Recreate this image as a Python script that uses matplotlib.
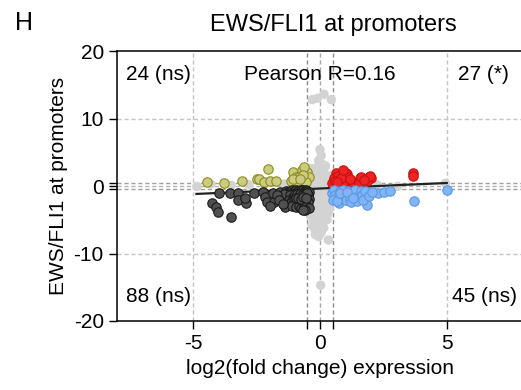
import matplotlib
matplotlib.use("Agg")
import matplotlib.pyplot as plt

plt.rcParams['font.family'] = ['Liberation Sans', 'DejaVu Sans']

# quadrant points: log2 fold change (x) vs EWS/FLI1 signal (y)
up_left_x = [-4.45, -3.79, -3.09, -2.50, -2.41, -2.04, -2.19, -1.95, -1.75, -1.07, -1.16, -0.95,
             -0.72, -0.50, -0.83, -0.57, -0.70, -0.45, -0.62, -0.88, -1.05, -0.55, -0.68, -0.80]
up_left_y = [0.64, 0.40, 0.79, 0.99, 1.04, 2.50, 0.64, 0.79, 0.79, 2.07, 0.68, 1.40,
             2.42, 2.10, 1.38, 1.14, 0.89, 1.38, 2.80, 0.75, 1.00, 0.60, 1.70, 1.10]

down_left_x = [-3.96, -3.56, -3.24, -4.25, -4.10, -4.02, -3.50, -3.24, -2.90, -2.96, -2.61, -2.24,
               -2.17, -2.10, -1.86, -1.82, -1.58, -1.49, -1.36, -1.29,
               -1.32, -1.25, -1.20, -1.15, -1.10, -1.05, -1.00, -0.95, -0.90, -0.85, -0.80, -0.75,
               -0.70, -0.65, -0.60, -0.55, -0.50, -0.45, -1.40, -1.18, -1.08, -0.98, -0.88, -0.78,
               -0.68, -0.58, -0.48, -1.22, -1.12, -1.02, -0.92, -0.82, -0.72, -0.62, -0.52, -0.42,
               -1.16, -1.06, -0.96, -0.86, -0.76, -0.66, -0.56, -0.46, -1.10, -0.94, -0.84, -0.74,
               -0.64, -0.54, -0.44, -1.00, -0.90, -0.80, -0.70, -0.60, -0.50, -0.95, -0.85, -0.75,
               -0.65, -0.55, -1.70, -1.62, -1.95, -0.58, -1.45, -0.68]
down_left_y = [-0.99, -1.08, -0.99, -2.47, -3.06, -3.90, -4.64, -2.07, -2.47, -1.82, -0.99, -0.84,
               -1.58, -2.32, -1.08, -2.32, -0.84, -1.58, -3.06, -2.32,
               -0.80, -0.95, -0.70, -1.00, -0.65, -0.90, -0.75, -0.60, -0.95, -0.70, -0.85, -0.55,
               -0.90, -0.65, -0.80, -0.60, -0.75, -0.85, -1.20, -1.40, -1.60, -1.45, -1.55, -1.35,
               -1.50, -1.65, -1.40, -2.00, -2.10, -1.90, -2.05, -1.95, -2.15, -1.85, -2.00, -1.90,
               -2.50, -2.60, -2.45, -2.55, -2.40, -2.65, -2.50, -2.35, -3.00, -3.10, -2.90, -3.20,
               -3.05, -2.95, -3.30, -1.20, -1.25, -1.15, -1.30, -1.20, -1.10, -1.80, -1.75, -1.85,
               -1.70, -1.80, -1.30, -2.00, -2.90, -3.55, -2.70, -3.60]

up_right_x = [0.62, 0.55, 0.75, 0.49, 0.89, 1.06, 1.08, 1.28, 1.58, 1.54, 1.94, 2.00, 1.87, 3.65,
              3.66, 1.02, 1.08, 1.61, 1.98, 0.95, 0.70, 0.58, 0.82, 0.66, 1.20, 1.75, 0.90]
up_right_y = [1.97, 1.14, 0.89, 0.40, 0.40, 1.78, 0.64, 0.64, 1.14, 0.49, 1.38, 1.14, 0.79, 1.93,
              1.43, 1.88, 1.38, 1.38, 1.48, 0.64, 1.50, 0.75, 1.20, 0.55, 1.00, 0.95, 2.40]

down_right_x = [0.49, 0.69, 0.62, 0.75, 0.95, 1.08, 1.28, 1.28, 1.48, 1.54, 1.87, 1.85, 2.28, 2.53,
                2.75, 3.72, 5.00, 0.55, 0.60, 0.72, 0.80, 0.85, 0.88, 0.92, 1.00, 1.02, 1.12, 1.15,
                1.18, 1.22, 1.35, 1.38, 1.42, 1.45, 1.60, 1.65, 1.70, 1.78, 1.95, 0.52, 0.66, 0.78,
                1.05, 1.30, 2.05]
down_right_y = [-1.08, -0.84, -1.82, -2.47, -1.08, -1.58, -0.84, -2.07, -1.08, -1.82, -1.08, -2.80,
                -1.04, -0.84, -0.70, -2.29, -0.65, -0.60, -1.30, -1.50, -0.70, -1.20, -1.90, -0.55,
                -1.40, -2.10, -0.75, -1.10, -1.85, -2.40, -1.30, -0.65, -1.60, -2.20, -0.80, -1.30,
                -2.00, -0.70, -1.50, -2.00, -2.20, -1.10, -0.90, -1.75, -0.95]

# non-significant genes (grey)
ns_x = [0.00, 0.05, -0.05, 0.10, -0.10, 0.15, -0.15, 0.20, -0.20, 0.05, 0.30, -0.30, 0.10, -0.10,
        0.35, -0.35, 0.20, -0.20, 0.00, 0.40, -0.40, 0.15, -0.15, 0.30, -0.30, 0.05, 0.25, -0.25,
        0.40, -0.40, 0.10, -0.05, 0.30, -0.30, 0.20, -0.20, 0.35, -0.35, 0.05, 0.25, -0.25, 0.10,
        -0.10, 0.00, -0.20, 0.05, 0.25, -0.12, 0.18, -0.28, 0.08, 0.32, -0.02, -0.22, 0.12, -0.08,
        0.42, -0.42, 0.38, -0.38, 0.28, -0.32, 0.15, -0.18, -0.35, 0.22, -0.05, 0.30, -0.25, 0.10,
        -0.30, -0.10, 0.16, 0.45, 0.03, 0.33, 2.25, 3.06, -4.85, -4.30, -3.50, -2.80, -2.20, -1.40,
        1.20, 4.95]
ns_y = [5.4, 4.5, 3.8, 3.2, 2.8, 2.4, 2.0, 1.7, 1.4, 1.2, 1.0, 0.9, 0.7, 0.5,
        0.4, 0.3, 0.2, 0.1, 0.0, -0.1, -0.2, -0.3, -0.5, -0.7, -0.9, -1.1, -1.3, -1.5,
        -1.7, -1.9, -2.1, -2.4, -2.6, -2.8, -3.1, -3.4, -3.7, -4.0, -4.3, -4.6, -4.9, -5.2,
        -5.6, -6.0, -6.4, -6.9, 0.6, -0.8, -1.6, 0.2, 2.2, -3.0, -3.8, -2.2, -0.4, 1.6,
        1.5, -1.2, -3.3, -4.4, -5.0, -5.8, -6.2, -7.2, 2.6, 3.0, -7.5, -4.2, -3.6, -5.5,
        12.8, 13.0, 13.6, 12.8, -14.7, -8.0, 0.20, -0.05, -0.05, 0.30, 0.10, 0.20, 0.25, 0.30,
        0.10, 0.40]

fit_x = [-4.87, 5.0]
fit_y = [-1.17, 0.45]

quad_labels = ["24 (ns)", "27 (*)", "88 (ns)", "45 (ns)"]
pearson_label = "Pearson R=0.16"

fig = plt.figure(figsize=(5.21, 3.9), dpi=100)
ax = fig.add_axes([0.2246, 0.177, 0.779, 0.692])

dash = (0, (3, 2))
for xv, col in [(-5, '#c4c4c4'), (5, '#c4c4c4'), (-0.5, '#8c8c8c'), (0.5, '#8c8c8c'), (0, '#a8a8a8')]:
    ax.axvline(xv, color=col, ls=dash, lw=1, zorder=1)
for yv, col in [(10, '#c4c4c4'), (-10, '#c4c4c4'), (0.5, '#a0a0a0'), (-0.5, '#a0a0a0'), (0, '#b4b4b4')]:
    ax.axhline(yv, color=col, ls=dash, lw=1, zorder=1)

ms = 46
ax.scatter(ns_x, ns_y, s=ms, color='#d3d3d3', edgecolors='none', zorder=2)
ax.plot(fit_x, fit_y, color='#222222', lw=1.6, zorder=2.5)
ax.scatter(up_left_x, up_left_y, s=ms, color='#cccc80', edgecolors='#8c8c22', lw=0.8, zorder=3)
ax.scatter(down_left_x, down_left_y, s=ms, color='#505050', edgecolors='#1a1a1a', lw=0.8, zorder=3)
ax.scatter(up_right_x, up_right_y, s=ms, color='#ee2424', edgecolors='#c81010', lw=0.8, zorder=3)
ax.scatter(down_right_x, down_right_y, s=ms, color='#80b4f4', edgecolors='#5a98e6', lw=0.8, zorder=3)

fs = 15
ax.text(-7.65, 16.5, quad_labels[0], fontsize=fs, va='center', ha='left')
ax.text(5.45, 16.5, quad_labels[1], fontsize=fs, va='center', ha='left')
ax.text(-7.65, -16.3, quad_labels[2], fontsize=fs, va='center', ha='left')
ax.text(5.2, -16.3, quad_labels[3], fontsize=fs, va='center', ha='left')
ax.text(0, 16.5, pearson_label, fontsize=fs, va='center', ha='center')

ax.set_xlim(-8, 8)
ax.set_ylim(-20, 20)
ax.set_xticks([-5, -0.5, 0, 0.5, 5])
ax.set_xticklabels(['-5', '', '0', '', '5'])
ax.set_yticks([-20, -10, -0.5, 0, 0.5, 10, 20])
ax.set_yticklabels(['-20', '-10', '', '0', '', '10', '20'])
ax.tick_params(direction='out', length=6, width=1, labelsize=fs, colors='black')
ax.spines['right'].set_visible(False)
for sp in ['left', 'bottom', 'top']:
    ax.spines[sp].set_linewidth(1.1)

ax.set_xlabel("log2(fold change) expression", fontsize=fs, labelpad=4)
ax.set_ylabel("EWS/FLI1 at promoters", fontsize=fs, labelpad=4)

fig.text(0.639, 0.937, "EWS/FLI1 at promoters", fontsize=17, ha='center', va='center')
fig.text(0.029, 0.94, "H", fontsize=18, ha='left', va='center')

fig.savefig("out.png", dpi=100)
